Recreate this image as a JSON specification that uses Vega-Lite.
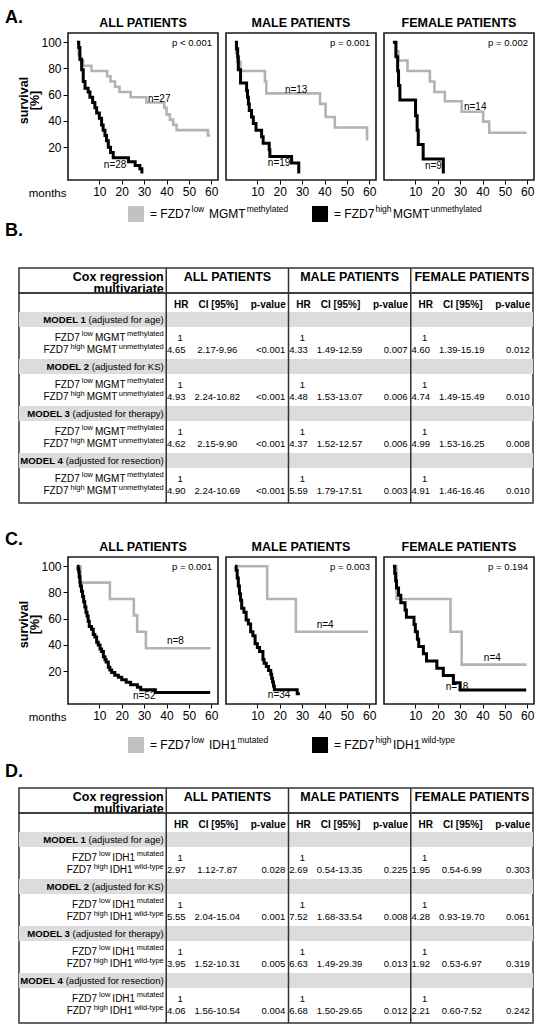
{
"$schema":"https://vega.github.io/schema/vega-lite/v6.json",
"padding":{"left":5,"top":0,"right":0,"bottom":0},
"background":"white",
"bounds":"flush",
"spacing":0,
"config":{"font":"Liberation Sans","view":{"stroke":null},"title":{"color":"#000"},"axis":{"labelOverlap":false}},
"datasets":{
"km":[
{"panel":"A-ALL","group":"low","month":0,"surv":100},{"panel":"A-ALL","group":"low","month":0.8,"surv":90},{"panel":"A-ALL","group":"low","month":1.5,"surv":86},{"panel":"A-ALL","group":"low","month":2.8,"surv":82},{"panel":"A-ALL","group":"low","month":6.5,"surv":78},{"panel":"A-ALL","group":"low","month":13.5,"surv":74},{"panel":"A-ALL","group":"low","month":15,"surv":70},{"panel":"A-ALL","group":"low","month":17,"surv":66},{"panel":"A-ALL","group":"low","month":19,"surv":62},{"panel":"A-ALL","group":"low","month":24,"surv":58},{"panel":"A-ALL","group":"low","month":31,"surv":54},{"panel":"A-ALL","group":"low","month":39,"surv":50},{"panel":"A-ALL","group":"low","month":40,"surv":45},{"panel":"A-ALL","group":"low","month":41.5,"surv":41},{"panel":"A-ALL","group":"low","month":43,"surv":37},{"panel":"A-ALL","group":"low","month":44.5,"surv":33},{"panel":"A-ALL","group":"low","month":58.5,"surv":29},{"panel":"A-ALL","group":"low","month":59.5,"surv":29},
{"panel":"A-ALL","group":"high","month":0,"surv":100},{"panel":"A-ALL","group":"high","month":0.8,"surv":96},{"panel":"A-ALL","group":"high","month":1.3,"surv":87},{"panel":"A-ALL","group":"high","month":2.1,"surv":79},{"panel":"A-ALL","group":"high","month":2.8,"surv":70},{"panel":"A-ALL","group":"high","month":3.6,"surv":65},{"panel":"A-ALL","group":"high","month":5,"surv":62},{"panel":"A-ALL","group":"high","month":5.8,"surv":58},{"panel":"A-ALL","group":"high","month":7,"surv":54},{"panel":"A-ALL","group":"high","month":8,"surv":50},{"panel":"A-ALL","group":"high","month":8.8,"surv":46},{"panel":"A-ALL","group":"high","month":10,"surv":42},{"panel":"A-ALL","group":"high","month":11,"surv":37},{"panel":"A-ALL","group":"high","month":11.7,"surv":33},{"panel":"A-ALL","group":"high","month":12.5,"surv":29},{"panel":"A-ALL","group":"high","month":13.2,"surv":25},{"panel":"A-ALL","group":"high","month":14,"surv":20},{"panel":"A-ALL","group":"high","month":15,"surv":16},{"panel":"A-ALL","group":"high","month":16.2,"surv":12},{"panel":"A-ALL","group":"high","month":23,"surv":9},{"panel":"A-ALL","group":"high","month":26,"surv":6},{"panel":"A-ALL","group":"high","month":28.1,"surv":3.5},{"panel":"A-ALL","group":"high","month":29,"surv":0},
{"panel":"A-MALE","group":"low","month":0,"surv":100},{"panel":"A-MALE","group":"low","month":0.5,"surv":92},{"panel":"A-MALE","group":"low","month":1,"surv":85},{"panel":"A-MALE","group":"low","month":2.5,"surv":78},{"panel":"A-MALE","group":"low","month":13.4,"surv":70},{"panel":"A-MALE","group":"low","month":14,"surv":61},{"panel":"A-MALE","group":"low","month":38,"surv":53},{"panel":"A-MALE","group":"low","month":40.5,"surv":43},{"panel":"A-MALE","group":"low","month":44.6,"surv":35},{"panel":"A-MALE","group":"low","month":59,"surv":26},{"panel":"A-MALE","group":"low","month":59.5,"surv":26},
{"panel":"A-MALE","group":"high","month":0,"surv":100},{"panel":"A-MALE","group":"high","month":0.7,"surv":95},{"panel":"A-MALE","group":"high","month":1.2,"surv":89},{"panel":"A-MALE","group":"high","month":1.5,"surv":79},{"panel":"A-MALE","group":"high","month":2.5,"surv":69},{"panel":"A-MALE","group":"high","month":5.2,"surv":63},{"panel":"A-MALE","group":"high","month":5.6,"surv":58},{"panel":"A-MALE","group":"high","month":6,"surv":53},{"panel":"A-MALE","group":"high","month":6.4,"surv":48},{"panel":"A-MALE","group":"high","month":7.4,"surv":43},{"panel":"A-MALE","group":"high","month":8.2,"surv":38},{"panel":"A-MALE","group":"high","month":9.4,"surv":33},{"panel":"A-MALE","group":"high","month":11.9,"surv":28},{"panel":"A-MALE","group":"high","month":12.6,"surv":23},{"panel":"A-MALE","group":"high","month":15.3,"surv":18},{"panel":"A-MALE","group":"high","month":15.6,"surv":13},{"panel":"A-MALE","group":"high","month":25.3,"surv":8},{"panel":"A-MALE","group":"high","month":28.5,"surv":0},
{"panel":"A-FEMALE","group":"low","month":0,"surv":100},{"panel":"A-FEMALE","group":"low","month":1.5,"surv":93},{"panel":"A-FEMALE","group":"low","month":2.4,"surv":86},{"panel":"A-FEMALE","group":"low","month":6.5,"surv":78},{"panel":"A-FEMALE","group":"low","month":16.5,"surv":70},{"panel":"A-FEMALE","group":"low","month":18.5,"surv":62},{"panel":"A-FEMALE","group":"low","month":23.2,"surv":55},{"panel":"A-FEMALE","group":"low","month":30.7,"surv":47},{"panel":"A-FEMALE","group":"low","month":40.3,"surv":39.5},{"panel":"A-FEMALE","group":"low","month":43,"surv":31},{"panel":"A-FEMALE","group":"low","month":59.7,"surv":31},
{"panel":"A-FEMALE","group":"high","month":0,"surv":100},{"panel":"A-FEMALE","group":"high","month":1.3,"surv":89},{"panel":"A-FEMALE","group":"high","month":2.1,"surv":78},{"panel":"A-FEMALE","group":"high","month":2.5,"surv":67},{"panel":"A-FEMALE","group":"high","month":3.1,"surv":56},{"panel":"A-FEMALE","group":"high","month":10.1,"surv":44},{"panel":"A-FEMALE","group":"high","month":10.8,"surv":33},{"panel":"A-FEMALE","group":"high","month":11.3,"surv":22},{"panel":"A-FEMALE","group":"high","month":13.5,"surv":11},{"panel":"A-FEMALE","group":"high","month":22.5,"surv":0},
{"panel":"C-ALL","group":"low","month":0,"surv":100},{"panel":"C-ALL","group":"low","month":1.6,"surv":87.5},{"panel":"C-ALL","group":"low","month":14.7,"surv":75},{"panel":"C-ALL","group":"low","month":25.4,"surv":62.5},{"panel":"C-ALL","group":"low","month":26.9,"surv":50},{"panel":"C-ALL","group":"low","month":30.8,"surv":37.5},{"panel":"C-ALL","group":"low","month":59.7,"surv":37.5},
{"panel":"C-ALL","group":"high","month":0,"surv":100},{"panel":"C-ALL","group":"high","month":0.5,"surv":98},{"panel":"C-ALL","group":"high","month":0.8,"surv":96},{"panel":"C-ALL","group":"high","month":1,"surv":92},{"panel":"C-ALL","group":"high","month":1.3,"surv":88},{"panel":"C-ALL","group":"high","month":1.5,"surv":85},{"panel":"C-ALL","group":"high","month":2,"surv":81},{"panel":"C-ALL","group":"high","month":2.5,"surv":77},{"panel":"C-ALL","group":"high","month":3,"surv":73},{"panel":"C-ALL","group":"high","month":3.5,"surv":69},{"panel":"C-ALL","group":"high","month":4,"surv":65},{"panel":"C-ALL","group":"high","month":4.5,"surv":62},{"panel":"C-ALL","group":"high","month":5,"surv":58},{"panel":"C-ALL","group":"high","month":5.5,"surv":54},{"panel":"C-ALL","group":"high","month":6.5,"surv":52},{"panel":"C-ALL","group":"high","month":7.3,"surv":48},{"panel":"C-ALL","group":"high","month":8,"surv":46},{"panel":"C-ALL","group":"high","month":8.8,"surv":42},{"panel":"C-ALL","group":"high","month":9.5,"surv":40},{"panel":"C-ALL","group":"high","month":10.3,"surv":37},{"panel":"C-ALL","group":"high","month":11,"surv":35},{"panel":"C-ALL","group":"high","month":11.8,"surv":31},{"panel":"C-ALL","group":"high","month":12.5,"surv":29},{"panel":"C-ALL","group":"high","month":13,"surv":27},{"panel":"C-ALL","group":"high","month":14,"surv":23},{"panel":"C-ALL","group":"high","month":14.7,"surv":21},{"panel":"C-ALL","group":"high","month":15.5,"surv":19},{"panel":"C-ALL","group":"high","month":16.9,"surv":17},{"panel":"C-ALL","group":"high","month":18.5,"surv":15.4},{"panel":"C-ALL","group":"high","month":20,"surv":13.5},{"panel":"C-ALL","group":"high","month":22,"surv":11.5},{"panel":"C-ALL","group":"high","month":24,"surv":9.6},{"panel":"C-ALL","group":"high","month":27,"surv":7.7},{"panel":"C-ALL","group":"high","month":28.5,"surv":5.8},{"panel":"C-ALL","group":"high","month":35,"surv":3.8},{"panel":"C-ALL","group":"high","month":59.5,"surv":3.8},
{"panel":"C-MALE","group":"low","month":0,"surv":100},{"panel":"C-MALE","group":"low","month":14.4,"surv":75},{"panel":"C-MALE","group":"low","month":27.2,"surv":50},{"panel":"C-MALE","group":"low","month":59.5,"surv":50},
{"panel":"C-MALE","group":"high","month":0,"surv":100},{"panel":"C-MALE","group":"high","month":0.5,"surv":97},{"panel":"C-MALE","group":"high","month":1,"surv":91},{"panel":"C-MALE","group":"high","month":1.5,"surv":85},{"panel":"C-MALE","group":"high","month":2,"surv":79},{"panel":"C-MALE","group":"high","month":2.5,"surv":74},{"panel":"C-MALE","group":"high","month":3,"surv":68},{"panel":"C-MALE","group":"high","month":4,"surv":65},{"panel":"C-MALE","group":"high","month":5,"surv":59},{"panel":"C-MALE","group":"high","month":6,"surv":56},{"panel":"C-MALE","group":"high","month":7,"surv":50},{"panel":"C-MALE","group":"high","month":8,"surv":47},{"panel":"C-MALE","group":"high","month":9,"surv":41},{"panel":"C-MALE","group":"high","month":10,"surv":38},{"panel":"C-MALE","group":"high","month":11,"surv":35},{"panel":"C-MALE","group":"high","month":12.5,"surv":29},{"panel":"C-MALE","group":"high","month":13,"surv":26},{"panel":"C-MALE","group":"high","month":14,"surv":23.5},{"panel":"C-MALE","group":"high","month":15,"surv":20.5},{"panel":"C-MALE","group":"high","month":16,"surv":17.6},{"panel":"C-MALE","group":"high","month":16.4,"surv":14.7},{"panel":"C-MALE","group":"high","month":16.8,"surv":11.8},{"panel":"C-MALE","group":"high","month":17.2,"surv":8.8},{"panel":"C-MALE","group":"high","month":17.6,"surv":5.9},{"panel":"C-MALE","group":"high","month":27.8,"surv":2.9},{"panel":"C-MALE","group":"high","month":29,"surv":2.9},
{"panel":"C-FEMALE","group":"low","month":0,"surv":100},{"panel":"C-FEMALE","group":"low","month":1.6,"surv":75},{"panel":"C-FEMALE","group":"low","month":25.7,"surv":50},{"panel":"C-FEMALE","group":"low","month":30.7,"surv":25},{"panel":"C-FEMALE","group":"low","month":59.7,"surv":25},
{"panel":"C-FEMALE","group":"high","month":0,"surv":100},{"panel":"C-FEMALE","group":"high","month":0.8,"surv":94.4},{"panel":"C-FEMALE","group":"high","month":1.2,"surv":88.9},{"panel":"C-FEMALE","group":"high","month":1.6,"surv":83.3},{"panel":"C-FEMALE","group":"high","month":2.5,"surv":77.8},{"panel":"C-FEMALE","group":"high","month":3.5,"surv":72.2},{"panel":"C-FEMALE","group":"high","month":5.4,"surv":66.7},{"panel":"C-FEMALE","group":"high","month":6,"surv":61.1},{"panel":"C-FEMALE","group":"high","month":9.4,"surv":55.6},{"panel":"C-FEMALE","group":"high","month":10,"surv":50},{"panel":"C-FEMALE","group":"high","month":10.9,"surv":44.4},{"panel":"C-FEMALE","group":"high","month":11.5,"surv":38.9},{"panel":"C-FEMALE","group":"high","month":13.6,"surv":33.3},{"panel":"C-FEMALE","group":"high","month":15,"surv":27.8},{"panel":"C-FEMALE","group":"high","month":19.6,"surv":22.2},{"panel":"C-FEMALE","group":"high","month":22.5,"surv":16.7},{"panel":"C-FEMALE","group":"high","month":27,"surv":11.1},{"panel":"C-FEMALE","group":"high","month":30,"surv":5.6},{"panel":"C-FEMALE","group":"high","month":59.5,"surv":5.6}
],
"nlab":[
{"panel":"A-ALL","month":31.7,"surv":56.7,"t":"n=27"},{"panel":"A-ALL","month":12,"surv":6.5,"t":"n=28"},
{"panel":"A-MALE","month":22.3,"surv":63.9,"t":"n=13"},{"panel":"A-MALE","month":14.7,"surv":8.3,"t":"n=19"},
{"panel":"A-FEMALE","month":31.7,"surv":50.9,"t":"n=14"},{"panel":"A-FEMALE","month":14.3,"surv":5.7,"t":"n=9"},
{"panel":"C-ALL","month":40.2,"surv":43,"t":"n=8"},{"panel":"C-ALL","month":25,"surv":1.2,"t":"n=52"},
{"panel":"C-MALE","month":36.5,"surv":55,"t":"n=4"},{"panel":"C-MALE","month":14.7,"surv":2.2,"t":"n=34"},
{"panel":"C-FEMALE","month":40.6,"surv":30,"t":"n=4"},{"panel":"C-FEMALE","month":23.6,"surv":8.1,"t":"n=18"}
],
"plab":[
{"panel":"A-ALL","month":60.3,"surv":99.5,"t":"p < 0.001"},{"panel":"A-MALE","month":60.3,"surv":99.5,"t":"p = 0.001"},{"panel":"A-FEMALE","month":60.3,"surv":99.5,"t":"p = 0.002"},
{"panel":"C-ALL","month":60.3,"surv":99.5,"t":"p = 0.001"},{"panel":"C-MALE","month":60.3,"surv":99.5,"t":"p = 0.003"},{"panel":"C-FEMALE","month":60.3,"surv":99.5,"t":"p = 0.194"}
],
"cohorts":[{"cohort":"ALL","title":"ALL PATIENTS"},{"cohort":"MALE","title":"MALE PATIENTS"},{"cohort":"FEMALE","title":"FEMALE PATIENTS"}],
"models":[{"model":"MODEL 1","adj":"(adjusted for age)"},{"model":"MODEL 2","adj":"(adjusted for KS)"},{"model":"MODEL 3","adj":"(adjusted for therapy)"},{"model":"MODEL 4","adj":"(adjusted for resection)"}],
"cox":[
{"table":"B","model":"MODEL 1","cohort":"ALL","hr":"4.65","ci":"2.17-9.96","p":"<0.001"},{"table":"B","model":"MODEL 1","cohort":"MALE","hr":"4.33","ci":"1.49-12.59","p":"0.007"},{"table":"B","model":"MODEL 1","cohort":"FEMALE","hr":"4.60","ci":"1.39-15.19","p":"0.012"},
{"table":"B","model":"MODEL 2","cohort":"ALL","hr":"4.93","ci":"2.24-10.82","p":"<0.001"},{"table":"B","model":"MODEL 2","cohort":"MALE","hr":"4.48","ci":"1.53-13.07","p":"0.006"},{"table":"B","model":"MODEL 2","cohort":"FEMALE","hr":"4.74","ci":"1.49-15.49","p":"0.010"},
{"table":"B","model":"MODEL 3","cohort":"ALL","hr":"4.62","ci":"2.15-9.90","p":"<0.001"},{"table":"B","model":"MODEL 3","cohort":"MALE","hr":"4.37","ci":"1.52-12.57","p":"0.006"},{"table":"B","model":"MODEL 3","cohort":"FEMALE","hr":"4.99","ci":"1.53-16.25","p":"0.008"},
{"table":"B","model":"MODEL 4","cohort":"ALL","hr":"4.90","ci":"2.24-10.69","p":"<0.001"},{"table":"B","model":"MODEL 4","cohort":"MALE","hr":"5.59","ci":"1.79-17.51","p":"0.003"},{"table":"B","model":"MODEL 4","cohort":"FEMALE","hr":"4.91","ci":"1.46-16.46","p":"0.010"},
{"table":"D","model":"MODEL 1","cohort":"ALL","hr":"2.97","ci":"1.12-7.87","p":"0.028"},{"table":"D","model":"MODEL 1","cohort":"MALE","hr":"2.69","ci":"0.54-13.35","p":"0.225"},{"table":"D","model":"MODEL 1","cohort":"FEMALE","hr":"1.95","ci":"0.54-6.99","p":"0.303"},
{"table":"D","model":"MODEL 2","cohort":"ALL","hr":"5.55","ci":"2.04-15.04","p":"0.001"},{"table":"D","model":"MODEL 2","cohort":"MALE","hr":"7.52","ci":"1.68-33.54","p":"0.008"},{"table":"D","model":"MODEL 2","cohort":"FEMALE","hr":"4.28","ci":"0.93-19.70","p":"0.061"},
{"table":"D","model":"MODEL 3","cohort":"ALL","hr":"3.95","ci":"1.52-10.31","p":"0.005"},{"table":"D","model":"MODEL 3","cohort":"MALE","hr":"6.63","ci":"1.49-29.39","p":"0.013"},{"table":"D","model":"MODEL 3","cohort":"FEMALE","hr":"1.92","ci":"0.53-6.97","p":"0.319"},
{"table":"D","model":"MODEL 4","cohort":"ALL","hr":"4.06","ci":"1.56-10.54","p":"0.004"},{"table":"D","model":"MODEL 4","cohort":"MALE","hr":"6.68","ci":"1.50-29.65","p":"0.012"},{"table":"D","model":"MODEL 4","cohort":"FEMALE","hr":"2.21","ci":"0.60-7.52","p":"0.242"}
],
"legend":[
{"leg":"A","item":"low","a":"= FZD7","b":"low","c":"MGMT","d":"methylated"},{"leg":"A","item":"high","a":"= FZD7","b":"high","c":"MGMT","d":"unmethylated"},
{"leg":"C","item":"low","a":"= FZD7","b":"low","c":"IDH1","d":"mutated"},{"leg":"C","item":"high","a":"= FZD7","b":"high","c":"IDH1","d":"wild-type"}
]
},
"vconcat":[
{"width":515,"height":33,"data":{"values":[{"s":"A."}]},"mark":{"type":"text","align":"left","baseline":"alphabetic","fontSize":18,"fontWeight":"bold","dx":-271.5,"dy":6.5,"color":"#000"},"encoding":{"text":{"field":"s"}}},
{"width":515,"height":147,
 "resolve":{"scale":{"x":"independent","y":"independent"},"axis":{"x":"independent","y":"independent"}},
 "layer":[
  {"data":{"values":[{}]},"mark":{"type":"rect","fillOpacity":0,"stroke":"#1a1a1a","strokeWidth":1.6},"encoding":{"x":{"datum":-4,"type":"quantitative","scale":{"domain":[-4,63],"range":[49,199],"nice":false,"zero":false},"axis":null},"x2":{"datum":63},"y":{"datum":-5,"type":"quantitative","scale":{"domain":[-5,107],"nice":false,"zero":false},"axis":null},"y2":{"datum":107}}},
  {"data":{"name":"km"},"transform":[{"filter":"datum.panel=='A-ALL' && datum.group=='low'"}],"mark":{"type":"line","interpolate":"step-after","color":"#b3b3b3","strokeWidth":2.6},"encoding":{
    "x":{"field":"month","type":"quantitative","scale":{"domain":[-4,63],"range":[49,199],"nice":false,"zero":false},"axis":{"orient":"bottom","values":[10,20,30,40,50,60],"title":"months","titleX":47,"titleY":13,"titleAlign":"right","titleBaseline":"middle","titleAngle":0,"titleFontWeight":"normal","titleFontSize":11.5,"titleColor":"#000","domain":false,"grid":false,"tickSize":4,"tickColor":"#000","labelFontSize":12,"labelColor":"#000","labelPadding":2,"labelFlush":false,"labelOverlap":false}},
    "y":{"field":"surv","type":"quantitative","scale":{"domain":[-5,107],"nice":false,"zero":false},"axis":{"orient":"left","offset":-49,"values":[20,40,60,80,100],"title":["survival","[%]"],"titleFontWeight":"bold","titleFontSize":12.5,"titleColor":"#000","titleAngle":270,"titleX":-45,"titleY":67,"titleAlign":"center","titleBaseline":"middle","titleLineHeight":11,"domain":false,"grid":false,"tickSize":5,"tickColor":"#000","labelFontSize":12,"labelColor":"#000","labelPadding":2,"labelOverlap":false,"labelFlush":false}}}},
  {"data":{"name":"km"},"transform":[{"filter":"datum.panel=='A-ALL' && datum.group=='high'"}],"mark":{"type":"line","interpolate":"step-after","color":"#000","strokeWidth":3},"encoding":{"x":{"field":"month","type":"quantitative","scale":{"domain":[-4,63],"range":[49,199],"nice":false,"zero":false},"axis":null},"y":{"field":"surv","type":"quantitative","scale":{"domain":[-5,107],"nice":false,"zero":false},"axis":null}}},
  {"data":{"name":"nlab"},"transform":[{"filter":"datum.panel=='A-ALL'"}],"mark":{"type":"text","align":"left","baseline":"middle","fontSize":10,"color":"#000"},"encoding":{"x":{"field":"month","type":"quantitative","scale":{"domain":[-4,63],"range":[49,199],"nice":false,"zero":false},"axis":null},"y":{"field":"surv","type":"quantitative","scale":{"domain":[-5,107],"nice":false,"zero":false},"axis":null},"text":{"field":"t"}}},
  {"data":{"name":"plab"},"transform":[{"filter":"datum.panel=='A-ALL'"}],"mark":{"type":"text","align":"right","baseline":"middle","fontSize":9.5,"color":"#000"},"encoding":{"x":{"field":"month","type":"quantitative","scale":{"domain":[-4,63],"range":[49,199],"nice":false,"zero":false},"axis":null},"y":{"field":"surv","type":"quantitative","scale":{"domain":[-5,107],"nice":false,"zero":false},"axis":null},"text":{"field":"t"}}},
  {"data":{"values":[{}]},"mark":{"type":"text","text":"ALL PATIENTS","fontSize":12.5,"fontWeight":"bold","align":"center","baseline":"alphabetic","dy":-6,"color":"#000"},"encoding":{"x":{"datum":29.5,"type":"quantitative","scale":{"domain":[-4,63],"range":[49,199],"nice":false,"zero":false},"axis":null},"y":{"datum":107,"type":"quantitative","scale":{"domain":[-5,107],"nice":false,"zero":false},"axis":null}}},

  {"data":{"values":[{}]},"mark":{"type":"rect","fillOpacity":0,"stroke":"#1a1a1a","strokeWidth":1.6},"encoding":{"x":{"datum":-4,"type":"quantitative","scale":{"domain":[-4,63],"range":[207,357],"nice":false,"zero":false},"axis":null},"x2":{"datum":63},"y":{"datum":-5,"type":"quantitative","scale":{"domain":[-5,107],"nice":false,"zero":false},"axis":null},"y2":{"datum":107}}},
  {"data":{"name":"km"},"transform":[{"filter":"datum.panel=='A-MALE' && datum.group=='low'"}],"mark":{"type":"line","interpolate":"step-after","color":"#b3b3b3","strokeWidth":2.6},"encoding":{
    "x":{"field":"month","type":"quantitative","scale":{"domain":[-4,63],"range":[207,357],"nice":false,"zero":false},"axis":{"orient":"bottom","values":[10,20,30,40,50,60],"title":null,"domain":false,"grid":false,"tickSize":4,"tickColor":"#000","labelFontSize":12,"labelColor":"#000","labelPadding":2,"labelFlush":false,"labelOverlap":false}},
    "y":{"field":"surv","type":"quantitative","scale":{"domain":[-5,107],"nice":false,"zero":false},"axis":null}}},
  {"data":{"name":"km"},"transform":[{"filter":"datum.panel=='A-MALE' && datum.group=='high'"}],"mark":{"type":"line","interpolate":"step-after","color":"#000","strokeWidth":3},"encoding":{"x":{"field":"month","type":"quantitative","scale":{"domain":[-4,63],"range":[207,357],"nice":false,"zero":false},"axis":null},"y":{"field":"surv","type":"quantitative","scale":{"domain":[-5,107],"nice":false,"zero":false},"axis":null}}},
  {"data":{"name":"nlab"},"transform":[{"filter":"datum.panel=='A-MALE'"}],"mark":{"type":"text","align":"left","baseline":"middle","fontSize":10,"color":"#000"},"encoding":{"x":{"field":"month","type":"quantitative","scale":{"domain":[-4,63],"range":[207,357],"nice":false,"zero":false},"axis":null},"y":{"field":"surv","type":"quantitative","scale":{"domain":[-5,107],"nice":false,"zero":false},"axis":null},"text":{"field":"t"}}},
  {"data":{"name":"plab"},"transform":[{"filter":"datum.panel=='A-MALE'"}],"mark":{"type":"text","align":"right","baseline":"middle","fontSize":9.5,"color":"#000"},"encoding":{"x":{"field":"month","type":"quantitative","scale":{"domain":[-4,63],"range":[207,357],"nice":false,"zero":false},"axis":null},"y":{"field":"surv","type":"quantitative","scale":{"domain":[-5,107],"nice":false,"zero":false},"axis":null},"text":{"field":"t"}}},
  {"data":{"values":[{}]},"mark":{"type":"text","text":"MALE PATIENTS","fontSize":12.5,"fontWeight":"bold","align":"center","baseline":"alphabetic","dy":-6,"color":"#000"},"encoding":{"x":{"datum":29.5,"type":"quantitative","scale":{"domain":[-4,63],"range":[207,357],"nice":false,"zero":false},"axis":null},"y":{"datum":107,"type":"quantitative","scale":{"domain":[-5,107],"nice":false,"zero":false},"axis":null}}},

  {"data":{"values":[{}]},"mark":{"type":"rect","fillOpacity":0,"stroke":"#1a1a1a","strokeWidth":1.6},"encoding":{"x":{"datum":-4,"type":"quantitative","scale":{"domain":[-4,63],"range":[365,515],"nice":false,"zero":false},"axis":null},"x2":{"datum":63},"y":{"datum":-5,"type":"quantitative","scale":{"domain":[-5,107],"nice":false,"zero":false},"axis":null},"y2":{"datum":107}}},
  {"data":{"name":"km"},"transform":[{"filter":"datum.panel=='A-FEMALE' && datum.group=='low'"}],"mark":{"type":"line","interpolate":"step-after","color":"#b3b3b3","strokeWidth":2.6},"encoding":{
    "x":{"field":"month","type":"quantitative","scale":{"domain":[-4,63],"range":[365,515],"nice":false,"zero":false},"axis":{"orient":"bottom","values":[10,20,30,40,50,60],"title":null,"domain":false,"grid":false,"tickSize":4,"tickColor":"#000","labelFontSize":12,"labelColor":"#000","labelPadding":2,"labelFlush":false,"labelOverlap":false}},
    "y":{"field":"surv","type":"quantitative","scale":{"domain":[-5,107],"nice":false,"zero":false},"axis":null}}},
  {"data":{"name":"km"},"transform":[{"filter":"datum.panel=='A-FEMALE' && datum.group=='high'"}],"mark":{"type":"line","interpolate":"step-after","color":"#000","strokeWidth":3},"encoding":{"x":{"field":"month","type":"quantitative","scale":{"domain":[-4,63],"range":[365,515],"nice":false,"zero":false},"axis":null},"y":{"field":"surv","type":"quantitative","scale":{"domain":[-5,107],"nice":false,"zero":false},"axis":null}}},
  {"data":{"name":"nlab"},"transform":[{"filter":"datum.panel=='A-FEMALE'"}],"mark":{"type":"text","align":"left","baseline":"middle","fontSize":10,"color":"#000"},"encoding":{"x":{"field":"month","type":"quantitative","scale":{"domain":[-4,63],"range":[365,515],"nice":false,"zero":false},"axis":null},"y":{"field":"surv","type":"quantitative","scale":{"domain":[-5,107],"nice":false,"zero":false},"axis":null},"text":{"field":"t"}}},
  {"data":{"name":"plab"},"transform":[{"filter":"datum.panel=='A-FEMALE'"}],"mark":{"type":"text","align":"right","baseline":"middle","fontSize":9.5,"color":"#000"},"encoding":{"x":{"field":"month","type":"quantitative","scale":{"domain":[-4,63],"range":[365,515],"nice":false,"zero":false},"axis":null},"y":{"field":"surv","type":"quantitative","scale":{"domain":[-5,107],"nice":false,"zero":false},"axis":null},"text":{"field":"t"}}},
  {"data":{"values":[{}]},"mark":{"type":"text","text":"FEMALE PATIENTS","fontSize":12.5,"fontWeight":"bold","align":"center","baseline":"alphabetic","dy":-6,"color":"#000"},"encoding":{"x":{"datum":29.5,"type":"quantitative","scale":{"domain":[-4,63],"range":[365,515],"nice":false,"zero":false},"axis":null},"y":{"datum":107,"type":"quantitative","scale":{"domain":[-5,107],"nice":false,"zero":false},"axis":null}}}
 ]},
{"width":515,"height":88,
 "layer":[
  {"data":{"values":[{"s":"B."}]},"mark":{"type":"text","align":"left","baseline":"alphabetic","fontSize":18,"fontWeight":"bold","dx":-271.5,"dy":12,"color":"#000"},"encoding":{"text":{"field":"s"}}},
  {"data":{"name":"legend"},"transform":[{"filter":"datum.leg=='A'"}],"mark":{"type":"square","size":256,"filled":true,"opacity":1},"encoding":{"x":{"field":"item","type":"nominal","scale":{"type":"band","domain":["low","high"],"range":[109,477],"paddingInner":0,"paddingOuter":0},"axis":null,"bandPosition":0.0435},"y":{"field":"leg","type":"nominal","scale":{"type":"band","domain":["A"],"range":[20,48],"paddingInner":0,"paddingOuter":0},"axis":null},"color":{"field":"item","type":"nominal","scale":{"domain":["low","high"],"range":["#c2c2c2","#000000"]},"legend":null}}},
  {"data":{"name":"legend"},"transform":[{"filter":"datum.leg=='A'"}],"mark":{"type":"text","align":"left","baseline":"middle","fontSize":12,"dx":22,"color":"#000"},"encoding":{"x":{"field":"item","type":"nominal","scale":{"type":"band","domain":["low","high"],"range":[109,477],"paddingInner":0,"paddingOuter":0},"axis":null,"bandPosition":0},"y":{"field":"leg","type":"nominal","scale":{"type":"band","domain":["A"],"range":[20,48],"paddingInner":0,"paddingOuter":0},"axis":null},"text":{"field":"a"}}},
  {"data":{"name":"legend"},"transform":[{"filter":"datum.leg=='A'"}],"mark":{"type":"text","align":"left","baseline":"middle","fontSize":8.5,"dx":63.5,"dy":-5,"color":"#000"},"encoding":{"x":{"field":"item","type":"nominal","scale":{"type":"band","domain":["low","high"],"range":[109,477],"paddingInner":0,"paddingOuter":0},"axis":null,"bandPosition":0},"y":{"field":"leg","type":"nominal","scale":{"type":"band","domain":["A"],"range":[20,48],"paddingInner":0,"paddingOuter":0},"axis":null},"text":{"field":"b"}}},
  {"data":{"name":"legend"},"transform":[{"filter":"datum.leg=='A'"}],"mark":{"type":"text","align":"left","baseline":"middle","fontSize":12,"dx":81,"color":"#000"},"encoding":{"x":{"field":"item","type":"nominal","scale":{"type":"band","domain":["low","high"],"range":[109,477],"paddingInner":0,"paddingOuter":0},"axis":null,"bandPosition":0},"y":{"field":"leg","type":"nominal","scale":{"type":"band","domain":["A"],"range":[20,48],"paddingInner":0,"paddingOuter":0},"axis":null},"text":{"field":"c"}}},
  {"data":{"name":"legend"},"transform":[{"filter":"datum.leg=='A'"}],"mark":{"type":"text","align":"left","baseline":"middle","fontSize":8.5,"dx":118.7,"dy":-5,"color":"#000"},"encoding":{"x":{"field":"item","type":"nominal","scale":{"type":"band","domain":["low","high"],"range":[109,477],"paddingInner":0,"paddingOuter":0},"axis":null,"bandPosition":0},"y":{"field":"leg","type":"nominal","scale":{"type":"band","domain":["A"],"range":[20,48],"paddingInner":0,"paddingOuter":0},"axis":null},"text":{"field":"d"}}}
 ]},
{"width":514,"height":25,"view":{"stroke":"#333","strokeWidth":1.5},
 "layer":[
  {"data":{"name":"cohorts"},"mark":{"type":"rule","color":"#333","strokeWidth":1.5},"encoding":{"x":{"field":"cohort","type":"nominal","scale":{"type":"band","domain":["label","ALL","MALE","FEMALE"],"range":[25,514],"paddingInner":0,"paddingOuter":0},"axis":null,"bandPosition":0}}},
  {"data":{"name":"cohorts"},"mark":{"type":"text","fontSize":12.5,"fontWeight":"bold","align":"center","baseline":"middle","dy":-3.5,"color":"#000"},"encoding":{"x":{"field":"cohort","type":"nominal","scale":{"type":"band","domain":["label","ALL","MALE","FEMALE"],"range":[25,514],"paddingInner":0,"paddingOuter":0},"axis":null},"text":{"field":"title"}}},
  {"data":{"values":[{}]},"mark":{"type":"text","text":["Cox regression","multivariate"],"lineHeight":12,"fontSize":12.5,"fontWeight":"bold","align":"right","baseline":"middle","dx":-2.5,"dy":-3.5,"color":"#000"},"encoding":{"x":{"datum":"label","type":"nominal","scale":{"type":"band","domain":["label","ALL","MALE","FEMALE"],"range":[25,514],"paddingInner":0,"paddingOuter":0},"axis":null,"bandPosition":1}}}
 ]},
{"width":514,"height":210,"view":{"stroke":"#333","strokeWidth":1.5},
 "layer":[
  {"data":{"name":"models"},"mark":{"type":"rule","color":"#dcdcdc","strokeWidth":15},"encoding":{"y":{"field":"model","type":"nominal","scale":{"type":"band","domain":["sub","MODEL 1","MODEL 2","MODEL 3","MODEL 4"],"range":[-29,206],"paddingInner":0,"paddingOuter":0},"axis":null,"bandPosition":0.18}}},
  {"data":{"name":"cohorts"},"mark":{"type":"rule","color":"#333","strokeWidth":1.5},"encoding":{"x":{"field":"cohort","type":"nominal","scale":{"type":"band","domain":["label","ALL","MALE","FEMALE"],"range":[25,514],"paddingInner":0,"paddingOuter":0},"axis":null,"bandPosition":0}}},
  {"data":{"name":"cohorts"},"mark":{"type":"text","text":"HR","fontSize":10,"fontWeight":"bold","align":"center","baseline":"middle","dx":15,"color":"#000"},"encoding":{"x":{"field":"cohort","type":"nominal","scale":{"type":"band","domain":["label","ALL","MALE","FEMALE"],"range":[25,514],"paddingInner":0,"paddingOuter":0},"axis":null,"bandPosition":0},"y":{"datum":"sub","type":"nominal","scale":{"type":"band","domain":["sub","MODEL 1","MODEL 2","MODEL 3","MODEL 4"],"range":[-29,206],"paddingInner":0,"paddingOuter":0},"axis":null,"bandPosition":0.872}}},
  {"data":{"name":"cohorts"},"mark":{"type":"text","text":"CI [95%]","fontSize":10,"fontWeight":"bold","align":"center","baseline":"middle","dx":52,"color":"#000"},"encoding":{"x":{"field":"cohort","type":"nominal","scale":{"type":"band","domain":["label","ALL","MALE","FEMALE"],"range":[25,514],"paddingInner":0,"paddingOuter":0},"axis":null,"bandPosition":0},"y":{"datum":"sub","type":"nominal","scale":{"type":"band","domain":["sub","MODEL 1","MODEL 2","MODEL 3","MODEL 4"],"range":[-29,206],"paddingInner":0,"paddingOuter":0},"axis":null,"bandPosition":0.872}}},
  {"data":{"name":"cohorts"},"mark":{"type":"text","text":"p-value","fontSize":10,"fontWeight":"bold","align":"right","baseline":"middle","dx":119.5,"color":"#000"},"encoding":{"x":{"field":"cohort","type":"nominal","scale":{"type":"band","domain":["label","ALL","MALE","FEMALE"],"range":[25,514],"paddingInner":0,"paddingOuter":0},"axis":null,"bandPosition":0},"y":{"datum":"sub","type":"nominal","scale":{"type":"band","domain":["sub","MODEL 1","MODEL 2","MODEL 3","MODEL 4"],"range":[-29,206],"paddingInner":0,"paddingOuter":0},"axis":null,"bandPosition":0.872}}},
  {"data":{"name":"models"},"transform":[{"filter":"datum.model=='MODEL 1'"}],"mark":{"type":"text","fontSize":9.6,"fontWeight":"bold","align":"right","baseline":"middle","dx":-80.4,"color":"#000"},"encoding":{"x":{"datum":"label","type":"nominal","scale":{"type":"band","domain":["label","ALL","MALE","FEMALE"],"range":[25,514],"paddingInner":0,"paddingOuter":0},"axis":null,"bandPosition":1},"y":{"field":"model","type":"nominal","scale":{"type":"band","domain":["sub","MODEL 1","MODEL 2","MODEL 3","MODEL 4"],"range":[-29,206],"paddingInner":0,"paddingOuter":0},"axis":null,"bandPosition":0.19},"text":{"field":"model"}}},
  {"data":{"name":"models"},"transform":[{"filter":"datum.model=='MODEL 2'"}],"mark":{"type":"text","fontSize":9.6,"fontWeight":"bold","align":"right","baseline":"middle","dx":-77.2,"color":"#000"},"encoding":{"x":{"datum":"label","type":"nominal","scale":{"type":"band","domain":["label","ALL","MALE","FEMALE"],"range":[25,514],"paddingInner":0,"paddingOuter":0},"axis":null,"bandPosition":1},"y":{"field":"model","type":"nominal","scale":{"type":"band","domain":["sub","MODEL 1","MODEL 2","MODEL 3","MODEL 4"],"range":[-29,206],"paddingInner":0,"paddingOuter":0},"axis":null,"bandPosition":0.19},"text":{"field":"model"}}},
  {"data":{"name":"models"},"transform":[{"filter":"datum.model=='MODEL 3'"}],"mark":{"type":"text","fontSize":9.6,"fontWeight":"bold","align":"right","baseline":"middle","dx":-96.4,"color":"#000"},"encoding":{"x":{"datum":"label","type":"nominal","scale":{"type":"band","domain":["label","ALL","MALE","FEMALE"],"range":[25,514],"paddingInner":0,"paddingOuter":0},"axis":null,"bandPosition":1},"y":{"field":"model","type":"nominal","scale":{"type":"band","domain":["sub","MODEL 1","MODEL 2","MODEL 3","MODEL 4"],"range":[-29,206],"paddingInner":0,"paddingOuter":0},"axis":null,"bandPosition":0.19},"text":{"field":"model"}}},
  {"data":{"name":"models"},"transform":[{"filter":"datum.model=='MODEL 4'"}],"mark":{"type":"text","fontSize":9.6,"fontWeight":"bold","align":"right","baseline":"middle","dx":-103.4,"color":"#000"},"encoding":{"x":{"datum":"label","type":"nominal","scale":{"type":"band","domain":["label","ALL","MALE","FEMALE"],"range":[25,514],"paddingInner":0,"paddingOuter":0},"axis":null,"bandPosition":1},"y":{"field":"model","type":"nominal","scale":{"type":"band","domain":["sub","MODEL 1","MODEL 2","MODEL 3","MODEL 4"],"range":[-29,206],"paddingInner":0,"paddingOuter":0},"axis":null,"bandPosition":0.19},"text":{"field":"model"}}},
  {"data":{"name":"models"},"mark":{"type":"text","fontSize":9.6,"align":"right","baseline":"middle","dx":-2.5,"color":"#000"},"encoding":{"x":{"datum":"label","type":"nominal","scale":{"type":"band","domain":["label","ALL","MALE","FEMALE"],"range":[25,514],"paddingInner":0,"paddingOuter":0},"axis":null,"bandPosition":1},"y":{"field":"model","type":"nominal","scale":{"type":"band","domain":["sub","MODEL 1","MODEL 2","MODEL 3","MODEL 4"],"range":[-29,206],"paddingInner":0,"paddingOuter":0},"axis":null,"bandPosition":0.19},"text":{"field":"adj"}}},
  {"data":{"name":"models"},"mark":{"type":"text","text":"methylated","fontSize":7.5,"align":"right","baseline":"middle","dx":-2.5,"dy":-3.5,"color":"#000"},"encoding":{"x":{"datum":"label","type":"nominal","scale":{"type":"band","domain":["label","ALL","MALE","FEMALE"],"range":[25,514],"paddingInner":0,"paddingOuter":0},"axis":null,"bandPosition":1},"y":{"field":"model","type":"nominal","scale":{"type":"band","domain":["sub","MODEL 1","MODEL 2","MODEL 3","MODEL 4"],"range":[-29,206],"paddingInner":0,"paddingOuter":0},"axis":null,"bandPosition":0.574}}},
  {"data":{"name":"models"},"mark":{"type":"text","text":"MGMT","fontSize":10,"align":"right","baseline":"middle","dx":-40.7,"color":"#000"},"encoding":{"x":{"datum":"label","type":"nominal","scale":{"type":"band","domain":["label","ALL","MALE","FEMALE"],"range":[25,514],"paddingInner":0,"paddingOuter":0},"axis":null,"bandPosition":1},"y":{"field":"model","type":"nominal","scale":{"type":"band","domain":["sub","MODEL 1","MODEL 2","MODEL 3","MODEL 4"],"range":[-29,206],"paddingInner":0,"paddingOuter":0},"axis":null,"bandPosition":0.574}}},
  {"data":{"name":"models"},"mark":{"type":"text","text":"low","fontSize":7.5,"align":"right","baseline":"middle","dx":-73.25,"dy":-3.5,"color":"#000"},"encoding":{"x":{"datum":"label","type":"nominal","scale":{"type":"band","domain":["label","ALL","MALE","FEMALE"],"range":[25,514],"paddingInner":0,"paddingOuter":0},"axis":null,"bandPosition":1},"y":{"field":"model","type":"nominal","scale":{"type":"band","domain":["sub","MODEL 1","MODEL 2","MODEL 3","MODEL 4"],"range":[-29,206],"paddingInner":0,"paddingOuter":0},"axis":null,"bandPosition":0.574}}},
  {"data":{"name":"models"},"mark":{"type":"text","text":"FZD7","fontSize":10,"align":"right","baseline":"middle","dx":-86.5,"color":"#000"},"encoding":{"x":{"datum":"label","type":"nominal","scale":{"type":"band","domain":["label","ALL","MALE","FEMALE"],"range":[25,514],"paddingInner":0,"paddingOuter":0},"axis":null,"bandPosition":1},"y":{"field":"model","type":"nominal","scale":{"type":"band","domain":["sub","MODEL 1","MODEL 2","MODEL 3","MODEL 4"],"range":[-29,206],"paddingInner":0,"paddingOuter":0},"axis":null,"bandPosition":0.574}}},
  {"data":{"name":"models"},"mark":{"type":"text","text":"unmethylated","fontSize":7.5,"align":"right","baseline":"middle","dx":-2.5,"dy":-3.5,"color":"#000"},"encoding":{"x":{"datum":"label","type":"nominal","scale":{"type":"band","domain":["label","ALL","MALE","FEMALE"],"range":[25,514],"paddingInner":0,"paddingOuter":0},"axis":null,"bandPosition":1},"y":{"field":"model","type":"nominal","scale":{"type":"band","domain":["sub","MODEL 1","MODEL 2","MODEL 3","MODEL 4"],"range":[-29,206],"paddingInner":0,"paddingOuter":0},"axis":null,"bandPosition":0.83}}},
  {"data":{"name":"models"},"mark":{"type":"text","text":"MGMT","fontSize":10,"align":"right","baseline":"middle","dx":-49,"color":"#000"},"encoding":{"x":{"datum":"label","type":"nominal","scale":{"type":"band","domain":["label","ALL","MALE","FEMALE"],"range":[25,514],"paddingInner":0,"paddingOuter":0},"axis":null,"bandPosition":1},"y":{"field":"model","type":"nominal","scale":{"type":"band","domain":["sub","MODEL 1","MODEL 2","MODEL 3","MODEL 4"],"range":[-29,206],"paddingInner":0,"paddingOuter":0},"axis":null,"bandPosition":0.83}}},
  {"data":{"name":"models"},"mark":{"type":"text","text":"high","fontSize":7.5,"align":"right","baseline":"middle","dx":-81.55,"dy":-3.5,"color":"#000"},"encoding":{"x":{"datum":"label","type":"nominal","scale":{"type":"band","domain":["label","ALL","MALE","FEMALE"],"range":[25,514],"paddingInner":0,"paddingOuter":0},"axis":null,"bandPosition":1},"y":{"field":"model","type":"nominal","scale":{"type":"band","domain":["sub","MODEL 1","MODEL 2","MODEL 3","MODEL 4"],"range":[-29,206],"paddingInner":0,"paddingOuter":0},"axis":null,"bandPosition":0.83}}},
  {"data":{"name":"models"},"mark":{"type":"text","text":"FZD7","fontSize":10,"align":"right","baseline":"middle","dx":-97.75,"color":"#000"},"encoding":{"x":{"datum":"label","type":"nominal","scale":{"type":"band","domain":["label","ALL","MALE","FEMALE"],"range":[25,514],"paddingInner":0,"paddingOuter":0},"axis":null,"bandPosition":1},"y":{"field":"model","type":"nominal","scale":{"type":"band","domain":["sub","MODEL 1","MODEL 2","MODEL 3","MODEL 4"],"range":[-29,206],"paddingInner":0,"paddingOuter":0},"axis":null,"bandPosition":0.83}}},
  {"data":{"name":"cox"},"transform":[{"filter":"datum.table=='B'"}],"mark":{"type":"text","text":"1","fontSize":9.5,"align":"center","baseline":"middle","dx":14,"color":"#000"},"encoding":{"x":{"field":"cohort","type":"nominal","scale":{"type":"band","domain":["label","ALL","MALE","FEMALE"],"range":[25,514],"paddingInner":0,"paddingOuter":0},"axis":null,"bandPosition":0},"y":{"field":"model","type":"nominal","scale":{"type":"band","domain":["sub","MODEL 1","MODEL 2","MODEL 3","MODEL 4"],"range":[-29,206],"paddingInner":0,"paddingOuter":0},"axis":null,"bandPosition":0.574}}},
  {"data":{"name":"cox"},"transform":[{"filter":"datum.table=='B'"}],"mark":{"type":"text","fontSize":9.5,"align":"center","baseline":"middle","dx":10,"color":"#000"},"encoding":{"x":{"field":"cohort","type":"nominal","scale":{"type":"band","domain":["label","ALL","MALE","FEMALE"],"range":[25,514],"paddingInner":0,"paddingOuter":0},"axis":null,"bandPosition":0},"y":{"field":"model","type":"nominal","scale":{"type":"band","domain":["sub","MODEL 1","MODEL 2","MODEL 3","MODEL 4"],"range":[-29,206],"paddingInner":0,"paddingOuter":0},"axis":null,"bandPosition":0.83},"text":{"field":"hr"}}},
  {"data":{"name":"cox"},"transform":[{"filter":"datum.table=='B'"}],"mark":{"type":"text","fontSize":9.5,"align":"center","baseline":"middle","dx":51,"color":"#000"},"encoding":{"x":{"field":"cohort","type":"nominal","scale":{"type":"band","domain":["label","ALL","MALE","FEMALE"],"range":[25,514],"paddingInner":0,"paddingOuter":0},"axis":null,"bandPosition":0},"y":{"field":"model","type":"nominal","scale":{"type":"band","domain":["sub","MODEL 1","MODEL 2","MODEL 3","MODEL 4"],"range":[-29,206],"paddingInner":0,"paddingOuter":0},"axis":null,"bandPosition":0.83},"text":{"field":"ci"}}},
  {"data":{"name":"cox"},"transform":[{"filter":"datum.table=='B'"}],"mark":{"type":"text","fontSize":9.5,"align":"right","baseline":"middle","dx":119,"color":"#000"},"encoding":{"x":{"field":"cohort","type":"nominal","scale":{"type":"band","domain":["label","ALL","MALE","FEMALE"],"range":[25,514],"paddingInner":0,"paddingOuter":0},"axis":null,"bandPosition":0},"y":{"field":"model","type":"nominal","scale":{"type":"band","domain":["sub","MODEL 1","MODEL 2","MODEL 3","MODEL 4"],"range":[-29,206],"paddingInner":0,"paddingOuter":0},"axis":null,"bandPosition":0.83},"text":{"field":"p"}}}
 ]},
{"width":515,"height":54,"data":{"values":[{"s":"C."}]},"mark":{"type":"text","align":"left","baseline":"alphabetic","fontSize":18,"fontWeight":"bold","dx":-271.5,"dy":15,"color":"#000"},"encoding":{"text":{"field":"s"}}},
{"width":515,"height":147,
 "resolve":{"scale":{"x":"independent","y":"independent"},"axis":{"x":"independent","y":"independent"}},
 "layer":[
  {"data":{"values":[{}]},"mark":{"type":"rect","fillOpacity":0,"stroke":"#1a1a1a","strokeWidth":1.6},"encoding":{"x":{"datum":-4,"type":"quantitative","scale":{"domain":[-4,63],"range":[49,199],"nice":false,"zero":false},"axis":null},"x2":{"datum":63},"y":{"datum":-5,"type":"quantitative","scale":{"domain":[-5,107],"nice":false,"zero":false},"axis":null},"y2":{"datum":107}}},
  {"data":{"name":"km"},"transform":[{"filter":"datum.panel=='C-ALL' && datum.group=='low'"}],"mark":{"type":"line","interpolate":"step-after","color":"#b3b3b3","strokeWidth":2.6},"encoding":{
    "x":{"field":"month","type":"quantitative","scale":{"domain":[-4,63],"range":[49,199],"nice":false,"zero":false},"axis":{"orient":"bottom","values":[10,20,30,40,50,60],"title":"months","titleX":47,"titleY":13,"titleAlign":"right","titleBaseline":"middle","titleAngle":0,"titleFontWeight":"normal","titleFontSize":11.5,"titleColor":"#000","domain":false,"grid":false,"tickSize":4,"tickColor":"#000","labelFontSize":12,"labelColor":"#000","labelPadding":2,"labelFlush":false,"labelOverlap":false}},
    "y":{"field":"surv","type":"quantitative","scale":{"domain":[-5,107],"nice":false,"zero":false},"axis":{"orient":"left","offset":-49,"values":[20,40,60,80,100],"title":["survival","[%]"],"titleFontWeight":"bold","titleFontSize":12.5,"titleColor":"#000","titleAngle":270,"titleX":-45,"titleY":67,"titleAlign":"center","titleBaseline":"middle","titleLineHeight":11,"domain":false,"grid":false,"tickSize":5,"tickColor":"#000","labelFontSize":12,"labelColor":"#000","labelPadding":2,"labelOverlap":false,"labelFlush":false}}}},
  {"data":{"name":"km"},"transform":[{"filter":"datum.panel=='C-ALL' && datum.group=='high'"}],"mark":{"type":"line","interpolate":"step-after","color":"#000","strokeWidth":3},"encoding":{"x":{"field":"month","type":"quantitative","scale":{"domain":[-4,63],"range":[49,199],"nice":false,"zero":false},"axis":null},"y":{"field":"surv","type":"quantitative","scale":{"domain":[-5,107],"nice":false,"zero":false},"axis":null}}},
  {"data":{"name":"nlab"},"transform":[{"filter":"datum.panel=='C-ALL'"}],"mark":{"type":"text","align":"left","baseline":"middle","fontSize":10,"color":"#000"},"encoding":{"x":{"field":"month","type":"quantitative","scale":{"domain":[-4,63],"range":[49,199],"nice":false,"zero":false},"axis":null},"y":{"field":"surv","type":"quantitative","scale":{"domain":[-5,107],"nice":false,"zero":false},"axis":null},"text":{"field":"t"}}},
  {"data":{"name":"plab"},"transform":[{"filter":"datum.panel=='C-ALL'"}],"mark":{"type":"text","align":"right","baseline":"middle","fontSize":9.5,"color":"#000"},"encoding":{"x":{"field":"month","type":"quantitative","scale":{"domain":[-4,63],"range":[49,199],"nice":false,"zero":false},"axis":null},"y":{"field":"surv","type":"quantitative","scale":{"domain":[-5,107],"nice":false,"zero":false},"axis":null},"text":{"field":"t"}}},
  {"data":{"values":[{}]},"mark":{"type":"text","text":"ALL PATIENTS","fontSize":12.5,"fontWeight":"bold","align":"center","baseline":"alphabetic","dy":-6,"color":"#000"},"encoding":{"x":{"datum":29.5,"type":"quantitative","scale":{"domain":[-4,63],"range":[49,199],"nice":false,"zero":false},"axis":null},"y":{"datum":107,"type":"quantitative","scale":{"domain":[-5,107],"nice":false,"zero":false},"axis":null}}},

  {"data":{"values":[{}]},"mark":{"type":"rect","fillOpacity":0,"stroke":"#1a1a1a","strokeWidth":1.6},"encoding":{"x":{"datum":-4,"type":"quantitative","scale":{"domain":[-4,63],"range":[207,357],"nice":false,"zero":false},"axis":null},"x2":{"datum":63},"y":{"datum":-5,"type":"quantitative","scale":{"domain":[-5,107],"nice":false,"zero":false},"axis":null},"y2":{"datum":107}}},
  {"data":{"name":"km"},"transform":[{"filter":"datum.panel=='C-MALE' && datum.group=='low'"}],"mark":{"type":"line","interpolate":"step-after","color":"#b3b3b3","strokeWidth":2.6},"encoding":{
    "x":{"field":"month","type":"quantitative","scale":{"domain":[-4,63],"range":[207,357],"nice":false,"zero":false},"axis":{"orient":"bottom","values":[10,20,30,40,50,60],"title":null,"domain":false,"grid":false,"tickSize":4,"tickColor":"#000","labelFontSize":12,"labelColor":"#000","labelPadding":2,"labelFlush":false,"labelOverlap":false}},
    "y":{"field":"surv","type":"quantitative","scale":{"domain":[-5,107],"nice":false,"zero":false},"axis":null}}},
  {"data":{"name":"km"},"transform":[{"filter":"datum.panel=='C-MALE' && datum.group=='high'"}],"mark":{"type":"line","interpolate":"step-after","color":"#000","strokeWidth":3},"encoding":{"x":{"field":"month","type":"quantitative","scale":{"domain":[-4,63],"range":[207,357],"nice":false,"zero":false},"axis":null},"y":{"field":"surv","type":"quantitative","scale":{"domain":[-5,107],"nice":false,"zero":false},"axis":null}}},
  {"data":{"name":"nlab"},"transform":[{"filter":"datum.panel=='C-MALE'"}],"mark":{"type":"text","align":"left","baseline":"middle","fontSize":10,"color":"#000"},"encoding":{"x":{"field":"month","type":"quantitative","scale":{"domain":[-4,63],"range":[207,357],"nice":false,"zero":false},"axis":null},"y":{"field":"surv","type":"quantitative","scale":{"domain":[-5,107],"nice":false,"zero":false},"axis":null},"text":{"field":"t"}}},
  {"data":{"name":"plab"},"transform":[{"filter":"datum.panel=='C-MALE'"}],"mark":{"type":"text","align":"right","baseline":"middle","fontSize":9.5,"color":"#000"},"encoding":{"x":{"field":"month","type":"quantitative","scale":{"domain":[-4,63],"range":[207,357],"nice":false,"zero":false},"axis":null},"y":{"field":"surv","type":"quantitative","scale":{"domain":[-5,107],"nice":false,"zero":false},"axis":null},"text":{"field":"t"}}},
  {"data":{"values":[{}]},"mark":{"type":"text","text":"MALE PATIENTS","fontSize":12.5,"fontWeight":"bold","align":"center","baseline":"alphabetic","dy":-6,"color":"#000"},"encoding":{"x":{"datum":29.5,"type":"quantitative","scale":{"domain":[-4,63],"range":[207,357],"nice":false,"zero":false},"axis":null},"y":{"datum":107,"type":"quantitative","scale":{"domain":[-5,107],"nice":false,"zero":false},"axis":null}}},

  {"data":{"values":[{}]},"mark":{"type":"rect","fillOpacity":0,"stroke":"#1a1a1a","strokeWidth":1.6},"encoding":{"x":{"datum":-4,"type":"quantitative","scale":{"domain":[-4,63],"range":[365,515],"nice":false,"zero":false},"axis":null},"x2":{"datum":63},"y":{"datum":-5,"type":"quantitative","scale":{"domain":[-5,107],"nice":false,"zero":false},"axis":null},"y2":{"datum":107}}},
  {"data":{"name":"km"},"transform":[{"filter":"datum.panel=='C-FEMALE' && datum.group=='low'"}],"mark":{"type":"line","interpolate":"step-after","color":"#b3b3b3","strokeWidth":2.6},"encoding":{
    "x":{"field":"month","type":"quantitative","scale":{"domain":[-4,63],"range":[365,515],"nice":false,"zero":false},"axis":{"orient":"bottom","values":[10,20,30,40,50,60],"title":null,"domain":false,"grid":false,"tickSize":4,"tickColor":"#000","labelFontSize":12,"labelColor":"#000","labelPadding":2,"labelFlush":false,"labelOverlap":false}},
    "y":{"field":"surv","type":"quantitative","scale":{"domain":[-5,107],"nice":false,"zero":false},"axis":null}}},
  {"data":{"name":"km"},"transform":[{"filter":"datum.panel=='C-FEMALE' && datum.group=='high'"}],"mark":{"type":"line","interpolate":"step-after","color":"#000","strokeWidth":3},"encoding":{"x":{"field":"month","type":"quantitative","scale":{"domain":[-4,63],"range":[365,515],"nice":false,"zero":false},"axis":null},"y":{"field":"surv","type":"quantitative","scale":{"domain":[-5,107],"nice":false,"zero":false},"axis":null}}},
  {"data":{"name":"nlab"},"transform":[{"filter":"datum.panel=='C-FEMALE'"}],"mark":{"type":"text","align":"left","baseline":"middle","fontSize":10,"color":"#000"},"encoding":{"x":{"field":"month","type":"quantitative","scale":{"domain":[-4,63],"range":[365,515],"nice":false,"zero":false},"axis":null},"y":{"field":"surv","type":"quantitative","scale":{"domain":[-5,107],"nice":false,"zero":false},"axis":null},"text":{"field":"t"}}},
  {"data":{"name":"plab"},"transform":[{"filter":"datum.panel=='C-FEMALE'"}],"mark":{"type":"text","align":"right","baseline":"middle","fontSize":9.5,"color":"#000"},"encoding":{"x":{"field":"month","type":"quantitative","scale":{"domain":[-4,63],"range":[365,515],"nice":false,"zero":false},"axis":null},"y":{"field":"surv","type":"quantitative","scale":{"domain":[-5,107],"nice":false,"zero":false},"axis":null},"text":{"field":"t"}}},
  {"data":{"values":[{}]},"mark":{"type":"text","text":"FEMALE PATIENTS","fontSize":12.5,"fontWeight":"bold","align":"center","baseline":"alphabetic","dy":-6,"color":"#000"},"encoding":{"x":{"datum":29.5,"type":"quantitative","scale":{"domain":[-4,63],"range":[365,515],"nice":false,"zero":false},"axis":null},"y":{"datum":107,"type":"quantitative","scale":{"domain":[-5,107],"nice":false,"zero":false},"axis":null}}}
 ]},
{"width":515,"height":84,
 "layer":[
  {"data":{"values":[{"s":"D."}]},"mark":{"type":"text","align":"left","baseline":"alphabetic","fontSize":18,"fontWeight":"bold","dx":-271.5,"dy":31,"color":"#000"},"encoding":{"text":{"field":"s"}}},
  {"data":{"name":"legend"},"transform":[{"filter":"datum.leg=='C'"}],"mark":{"type":"square","size":256,"filled":true,"opacity":1},"encoding":{"x":{"field":"item","type":"nominal","scale":{"type":"band","domain":["low","high"],"range":[109,477],"paddingInner":0,"paddingOuter":0},"axis":null,"bandPosition":0.0435},"y":{"field":"leg","type":"nominal","scale":{"type":"band","domain":["C"],"range":[27,55],"paddingInner":0,"paddingOuter":0},"axis":null},"color":{"field":"item","type":"nominal","scale":{"domain":["low","high"],"range":["#c2c2c2","#000000"]},"legend":null}}},
  {"data":{"name":"legend"},"transform":[{"filter":"datum.leg=='C'"}],"mark":{"type":"text","align":"left","baseline":"middle","fontSize":12,"dx":22,"color":"#000"},"encoding":{"x":{"field":"item","type":"nominal","scale":{"type":"band","domain":["low","high"],"range":[109,477],"paddingInner":0,"paddingOuter":0},"axis":null,"bandPosition":0},"y":{"field":"leg","type":"nominal","scale":{"type":"band","domain":["C"],"range":[27,55],"paddingInner":0,"paddingOuter":0},"axis":null},"text":{"field":"a"}}},
  {"data":{"name":"legend"},"transform":[{"filter":"datum.leg=='C'"}],"mark":{"type":"text","align":"left","baseline":"middle","fontSize":8.5,"dx":63.5,"dy":-5,"color":"#000"},"encoding":{"x":{"field":"item","type":"nominal","scale":{"type":"band","domain":["low","high"],"range":[109,477],"paddingInner":0,"paddingOuter":0},"axis":null,"bandPosition":0},"y":{"field":"leg","type":"nominal","scale":{"type":"band","domain":["C"],"range":[27,55],"paddingInner":0,"paddingOuter":0},"axis":null},"text":{"field":"b"}}},
  {"data":{"name":"legend"},"transform":[{"filter":"datum.leg=='C'"}],"mark":{"type":"text","align":"left","baseline":"middle","fontSize":12,"dx":81,"color":"#000"},"encoding":{"x":{"field":"item","type":"nominal","scale":{"type":"band","domain":["low","high"],"range":[109,477],"paddingInner":0,"paddingOuter":0},"axis":null,"bandPosition":0},"y":{"field":"leg","type":"nominal","scale":{"type":"band","domain":["C"],"range":[27,55],"paddingInner":0,"paddingOuter":0},"axis":null},"text":{"field":"c"}}},
  {"data":{"name":"legend"},"transform":[{"filter":"datum.leg=='C'"}],"mark":{"type":"text","align":"left","baseline":"middle","fontSize":8.5,"dx":109.5,"dy":-5,"color":"#000"},"encoding":{"x":{"field":"item","type":"nominal","scale":{"type":"band","domain":["low","high"],"range":[109,477],"paddingInner":0,"paddingOuter":0},"axis":null,"bandPosition":0},"y":{"field":"leg","type":"nominal","scale":{"type":"band","domain":["C"],"range":[27,55],"paddingInner":0,"paddingOuter":0},"axis":null},"text":{"field":"d"}}}
 ]},
{"width":514,"height":25,"view":{"stroke":"#333","strokeWidth":1.5},
 "layer":[
  {"data":{"name":"cohorts"},"mark":{"type":"rule","color":"#333","strokeWidth":1.5},"encoding":{"x":{"field":"cohort","type":"nominal","scale":{"type":"band","domain":["label","ALL","MALE","FEMALE"],"range":[25,514],"paddingInner":0,"paddingOuter":0},"axis":null,"bandPosition":0}}},
  {"data":{"name":"cohorts"},"mark":{"type":"text","fontSize":12.5,"fontWeight":"bold","align":"center","baseline":"middle","dy":-3.5,"color":"#000"},"encoding":{"x":{"field":"cohort","type":"nominal","scale":{"type":"band","domain":["label","ALL","MALE","FEMALE"],"range":[25,514],"paddingInner":0,"paddingOuter":0},"axis":null},"text":{"field":"title"}}},
  {"data":{"values":[{}]},"mark":{"type":"text","text":["Cox regression","multivariate"],"lineHeight":12,"fontSize":12.5,"fontWeight":"bold","align":"right","baseline":"middle","dx":-2.5,"dy":-3.5,"color":"#000"},"encoding":{"x":{"datum":"label","type":"nominal","scale":{"type":"band","domain":["label","ALL","MALE","FEMALE"],"range":[25,514],"paddingInner":0,"paddingOuter":0},"axis":null,"bandPosition":1}}}
 ]},
{"width":514,"height":210,"view":{"stroke":"#333","strokeWidth":1.5},
 "layer":[
  {"data":{"name":"models"},"mark":{"type":"rule","color":"#dcdcdc","strokeWidth":15},"encoding":{"y":{"field":"model","type":"nominal","scale":{"type":"band","domain":["sub","MODEL 1","MODEL 2","MODEL 3","MODEL 4"],"range":[-29,206],"paddingInner":0,"paddingOuter":0},"axis":null,"bandPosition":0.18}}},
  {"data":{"name":"cohorts"},"mark":{"type":"rule","color":"#333","strokeWidth":1.5},"encoding":{"x":{"field":"cohort","type":"nominal","scale":{"type":"band","domain":["label","ALL","MALE","FEMALE"],"range":[25,514],"paddingInner":0,"paddingOuter":0},"axis":null,"bandPosition":0}}},
  {"data":{"name":"cohorts"},"mark":{"type":"text","text":"HR","fontSize":10,"fontWeight":"bold","align":"center","baseline":"middle","dx":15,"color":"#000"},"encoding":{"x":{"field":"cohort","type":"nominal","scale":{"type":"band","domain":["label","ALL","MALE","FEMALE"],"range":[25,514],"paddingInner":0,"paddingOuter":0},"axis":null,"bandPosition":0},"y":{"datum":"sub","type":"nominal","scale":{"type":"band","domain":["sub","MODEL 1","MODEL 2","MODEL 3","MODEL 4"],"range":[-29,206],"paddingInner":0,"paddingOuter":0},"axis":null,"bandPosition":0.872}}},
  {"data":{"name":"cohorts"},"mark":{"type":"text","text":"CI [95%]","fontSize":10,"fontWeight":"bold","align":"center","baseline":"middle","dx":52,"color":"#000"},"encoding":{"x":{"field":"cohort","type":"nominal","scale":{"type":"band","domain":["label","ALL","MALE","FEMALE"],"range":[25,514],"paddingInner":0,"paddingOuter":0},"axis":null,"bandPosition":0},"y":{"datum":"sub","type":"nominal","scale":{"type":"band","domain":["sub","MODEL 1","MODEL 2","MODEL 3","MODEL 4"],"range":[-29,206],"paddingInner":0,"paddingOuter":0},"axis":null,"bandPosition":0.872}}},
  {"data":{"name":"cohorts"},"mark":{"type":"text","text":"p-value","fontSize":10,"fontWeight":"bold","align":"right","baseline":"middle","dx":119.5,"color":"#000"},"encoding":{"x":{"field":"cohort","type":"nominal","scale":{"type":"band","domain":["label","ALL","MALE","FEMALE"],"range":[25,514],"paddingInner":0,"paddingOuter":0},"axis":null,"bandPosition":0},"y":{"datum":"sub","type":"nominal","scale":{"type":"band","domain":["sub","MODEL 1","MODEL 2","MODEL 3","MODEL 4"],"range":[-29,206],"paddingInner":0,"paddingOuter":0},"axis":null,"bandPosition":0.872}}},
  {"data":{"name":"models"},"transform":[{"filter":"datum.model=='MODEL 1'"}],"mark":{"type":"text","fontSize":9.6,"fontWeight":"bold","align":"right","baseline":"middle","dx":-80.4,"color":"#000"},"encoding":{"x":{"datum":"label","type":"nominal","scale":{"type":"band","domain":["label","ALL","MALE","FEMALE"],"range":[25,514],"paddingInner":0,"paddingOuter":0},"axis":null,"bandPosition":1},"y":{"field":"model","type":"nominal","scale":{"type":"band","domain":["sub","MODEL 1","MODEL 2","MODEL 3","MODEL 4"],"range":[-29,206],"paddingInner":0,"paddingOuter":0},"axis":null,"bandPosition":0.19},"text":{"field":"model"}}},
  {"data":{"name":"models"},"transform":[{"filter":"datum.model=='MODEL 2'"}],"mark":{"type":"text","fontSize":9.6,"fontWeight":"bold","align":"right","baseline":"middle","dx":-77.2,"color":"#000"},"encoding":{"x":{"datum":"label","type":"nominal","scale":{"type":"band","domain":["label","ALL","MALE","FEMALE"],"range":[25,514],"paddingInner":0,"paddingOuter":0},"axis":null,"bandPosition":1},"y":{"field":"model","type":"nominal","scale":{"type":"band","domain":["sub","MODEL 1","MODEL 2","MODEL 3","MODEL 4"],"range":[-29,206],"paddingInner":0,"paddingOuter":0},"axis":null,"bandPosition":0.19},"text":{"field":"model"}}},
  {"data":{"name":"models"},"transform":[{"filter":"datum.model=='MODEL 3'"}],"mark":{"type":"text","fontSize":9.6,"fontWeight":"bold","align":"right","baseline":"middle","dx":-96.4,"color":"#000"},"encoding":{"x":{"datum":"label","type":"nominal","scale":{"type":"band","domain":["label","ALL","MALE","FEMALE"],"range":[25,514],"paddingInner":0,"paddingOuter":0},"axis":null,"bandPosition":1},"y":{"field":"model","type":"nominal","scale":{"type":"band","domain":["sub","MODEL 1","MODEL 2","MODEL 3","MODEL 4"],"range":[-29,206],"paddingInner":0,"paddingOuter":0},"axis":null,"bandPosition":0.19},"text":{"field":"model"}}},
  {"data":{"name":"models"},"transform":[{"filter":"datum.model=='MODEL 4'"}],"mark":{"type":"text","fontSize":9.6,"fontWeight":"bold","align":"right","baseline":"middle","dx":-103.4,"color":"#000"},"encoding":{"x":{"datum":"label","type":"nominal","scale":{"type":"band","domain":["label","ALL","MALE","FEMALE"],"range":[25,514],"paddingInner":0,"paddingOuter":0},"axis":null,"bandPosition":1},"y":{"field":"model","type":"nominal","scale":{"type":"band","domain":["sub","MODEL 1","MODEL 2","MODEL 3","MODEL 4"],"range":[-29,206],"paddingInner":0,"paddingOuter":0},"axis":null,"bandPosition":0.19},"text":{"field":"model"}}},
  {"data":{"name":"models"},"mark":{"type":"text","fontSize":9.6,"align":"right","baseline":"middle","dx":-2.5,"color":"#000"},"encoding":{"x":{"datum":"label","type":"nominal","scale":{"type":"band","domain":["label","ALL","MALE","FEMALE"],"range":[25,514],"paddingInner":0,"paddingOuter":0},"axis":null,"bandPosition":1},"y":{"field":"model","type":"nominal","scale":{"type":"band","domain":["sub","MODEL 1","MODEL 2","MODEL 3","MODEL 4"],"range":[-29,206],"paddingInner":0,"paddingOuter":0},"axis":null,"bandPosition":0.19},"text":{"field":"adj"}}},
  {"data":{"name":"models"},"mark":{"type":"text","text":"mutated","fontSize":7.5,"align":"right","baseline":"middle","dx":-2.5,"dy":-3.5,"color":"#000"},"encoding":{"x":{"datum":"label","type":"nominal","scale":{"type":"band","domain":["label","ALL","MALE","FEMALE"],"range":[25,514],"paddingInner":0,"paddingOuter":0},"axis":null,"bandPosition":1},"y":{"field":"model","type":"nominal","scale":{"type":"band","domain":["sub","MODEL 1","MODEL 2","MODEL 3","MODEL 4"],"range":[-29,206],"paddingInner":0,"paddingOuter":0},"axis":null,"bandPosition":0.574}}},
  {"data":{"name":"models"},"mark":{"type":"text","text":"IDH1","fontSize":10,"align":"right","baseline":"middle","dx":-31.1,"color":"#000"},"encoding":{"x":{"datum":"label","type":"nominal","scale":{"type":"band","domain":["label","ALL","MALE","FEMALE"],"range":[25,514],"paddingInner":0,"paddingOuter":0},"axis":null,"bandPosition":1},"y":{"field":"model","type":"nominal","scale":{"type":"band","domain":["sub","MODEL 1","MODEL 2","MODEL 3","MODEL 4"],"range":[-29,206],"paddingInner":0,"paddingOuter":0},"axis":null,"bandPosition":0.574}}},
  {"data":{"name":"models"},"mark":{"type":"text","text":"low","fontSize":7.5,"align":"right","baseline":"middle","dx":-55.9,"dy":-3.5,"color":"#000"},"encoding":{"x":{"datum":"label","type":"nominal","scale":{"type":"band","domain":["label","ALL","MALE","FEMALE"],"range":[25,514],"paddingInner":0,"paddingOuter":0},"axis":null,"bandPosition":1},"y":{"field":"model","type":"nominal","scale":{"type":"band","domain":["sub","MODEL 1","MODEL 2","MODEL 3","MODEL 4"],"range":[-29,206],"paddingInner":0,"paddingOuter":0},"axis":null,"bandPosition":0.574}}},
  {"data":{"name":"models"},"mark":{"type":"text","text":"FZD7","fontSize":10,"align":"right","baseline":"middle","dx":-69.15,"color":"#000"},"encoding":{"x":{"datum":"label","type":"nominal","scale":{"type":"band","domain":["label","ALL","MALE","FEMALE"],"range":[25,514],"paddingInner":0,"paddingOuter":0},"axis":null,"bandPosition":1},"y":{"field":"model","type":"nominal","scale":{"type":"band","domain":["sub","MODEL 1","MODEL 2","MODEL 3","MODEL 4"],"range":[-29,206],"paddingInner":0,"paddingOuter":0},"axis":null,"bandPosition":0.574}}},
  {"data":{"name":"models"},"mark":{"type":"text","text":"wild-type","fontSize":7.5,"align":"right","baseline":"middle","dx":-2.5,"dy":-3.5,"color":"#000"},"encoding":{"x":{"datum":"label","type":"nominal","scale":{"type":"band","domain":["label","ALL","MALE","FEMALE"],"range":[25,514],"paddingInner":0,"paddingOuter":0},"axis":null,"bandPosition":1},"y":{"field":"model","type":"nominal","scale":{"type":"band","domain":["sub","MODEL 1","MODEL 2","MODEL 3","MODEL 4"],"range":[-29,206],"paddingInner":0,"paddingOuter":0},"axis":null,"bandPosition":0.83}}},
  {"data":{"name":"models"},"mark":{"type":"text","text":"IDH1","fontSize":10,"align":"right","baseline":"middle","dx":-33.6,"color":"#000"},"encoding":{"x":{"datum":"label","type":"nominal","scale":{"type":"band","domain":["label","ALL","MALE","FEMALE"],"range":[25,514],"paddingInner":0,"paddingOuter":0},"axis":null,"bandPosition":1},"y":{"field":"model","type":"nominal","scale":{"type":"band","domain":["sub","MODEL 1","MODEL 2","MODEL 3","MODEL 4"],"range":[-29,206],"paddingInner":0,"paddingOuter":0},"axis":null,"bandPosition":0.83}}},
  {"data":{"name":"models"},"mark":{"type":"text","text":"high","fontSize":7.5,"align":"right","baseline":"middle","dx":-58.4,"dy":-3.5,"color":"#000"},"encoding":{"x":{"datum":"label","type":"nominal","scale":{"type":"band","domain":["label","ALL","MALE","FEMALE"],"range":[25,514],"paddingInner":0,"paddingOuter":0},"axis":null,"bandPosition":1},"y":{"field":"model","type":"nominal","scale":{"type":"band","domain":["sub","MODEL 1","MODEL 2","MODEL 3","MODEL 4"],"range":[-29,206],"paddingInner":0,"paddingOuter":0},"axis":null,"bandPosition":0.83}}},
  {"data":{"name":"models"},"mark":{"type":"text","text":"FZD7","fontSize":10,"align":"right","baseline":"middle","dx":-74.6,"color":"#000"},"encoding":{"x":{"datum":"label","type":"nominal","scale":{"type":"band","domain":["label","ALL","MALE","FEMALE"],"range":[25,514],"paddingInner":0,"paddingOuter":0},"axis":null,"bandPosition":1},"y":{"field":"model","type":"nominal","scale":{"type":"band","domain":["sub","MODEL 1","MODEL 2","MODEL 3","MODEL 4"],"range":[-29,206],"paddingInner":0,"paddingOuter":0},"axis":null,"bandPosition":0.83}}},
  {"data":{"name":"cox"},"transform":[{"filter":"datum.table=='D'"}],"mark":{"type":"text","text":"1","fontSize":9.5,"align":"center","baseline":"middle","dx":14,"color":"#000"},"encoding":{"x":{"field":"cohort","type":"nominal","scale":{"type":"band","domain":["label","ALL","MALE","FEMALE"],"range":[25,514],"paddingInner":0,"paddingOuter":0},"axis":null,"bandPosition":0},"y":{"field":"model","type":"nominal","scale":{"type":"band","domain":["sub","MODEL 1","MODEL 2","MODEL 3","MODEL 4"],"range":[-29,206],"paddingInner":0,"paddingOuter":0},"axis":null,"bandPosition":0.574}}},
  {"data":{"name":"cox"},"transform":[{"filter":"datum.table=='D'"}],"mark":{"type":"text","fontSize":9.5,"align":"center","baseline":"middle","dx":10,"color":"#000"},"encoding":{"x":{"field":"cohort","type":"nominal","scale":{"type":"band","domain":["label","ALL","MALE","FEMALE"],"range":[25,514],"paddingInner":0,"paddingOuter":0},"axis":null,"bandPosition":0},"y":{"field":"model","type":"nominal","scale":{"type":"band","domain":["sub","MODEL 1","MODEL 2","MODEL 3","MODEL 4"],"range":[-29,206],"paddingInner":0,"paddingOuter":0},"axis":null,"bandPosition":0.83},"text":{"field":"hr"}}},
  {"data":{"name":"cox"},"transform":[{"filter":"datum.table=='D'"}],"mark":{"type":"text","fontSize":9.5,"align":"center","baseline":"middle","dx":51,"color":"#000"},"encoding":{"x":{"field":"cohort","type":"nominal","scale":{"type":"band","domain":["label","ALL","MALE","FEMALE"],"range":[25,514],"paddingInner":0,"paddingOuter":0},"axis":null,"bandPosition":0},"y":{"field":"model","type":"nominal","scale":{"type":"band","domain":["sub","MODEL 1","MODEL 2","MODEL 3","MODEL 4"],"range":[-29,206],"paddingInner":0,"paddingOuter":0},"axis":null,"bandPosition":0.83},"text":{"field":"ci"}}},
  {"data":{"name":"cox"},"transform":[{"filter":"datum.table=='D'"}],"mark":{"type":"text","fontSize":9.5,"align":"right","baseline":"middle","dx":119,"color":"#000"},"encoding":{"x":{"field":"cohort","type":"nominal","scale":{"type":"band","domain":["label","ALL","MALE","FEMALE"],"range":[25,514],"paddingInner":0,"paddingOuter":0},"axis":null,"bandPosition":0},"y":{"field":"model","type":"nominal","scale":{"type":"band","domain":["sub","MODEL 1","MODEL 2","MODEL 3","MODEL 4"],"range":[-29,206],"paddingInner":0,"paddingOuter":0},"axis":null,"bandPosition":0.83},"text":{"field":"p"}}}
 ]}
]
}
